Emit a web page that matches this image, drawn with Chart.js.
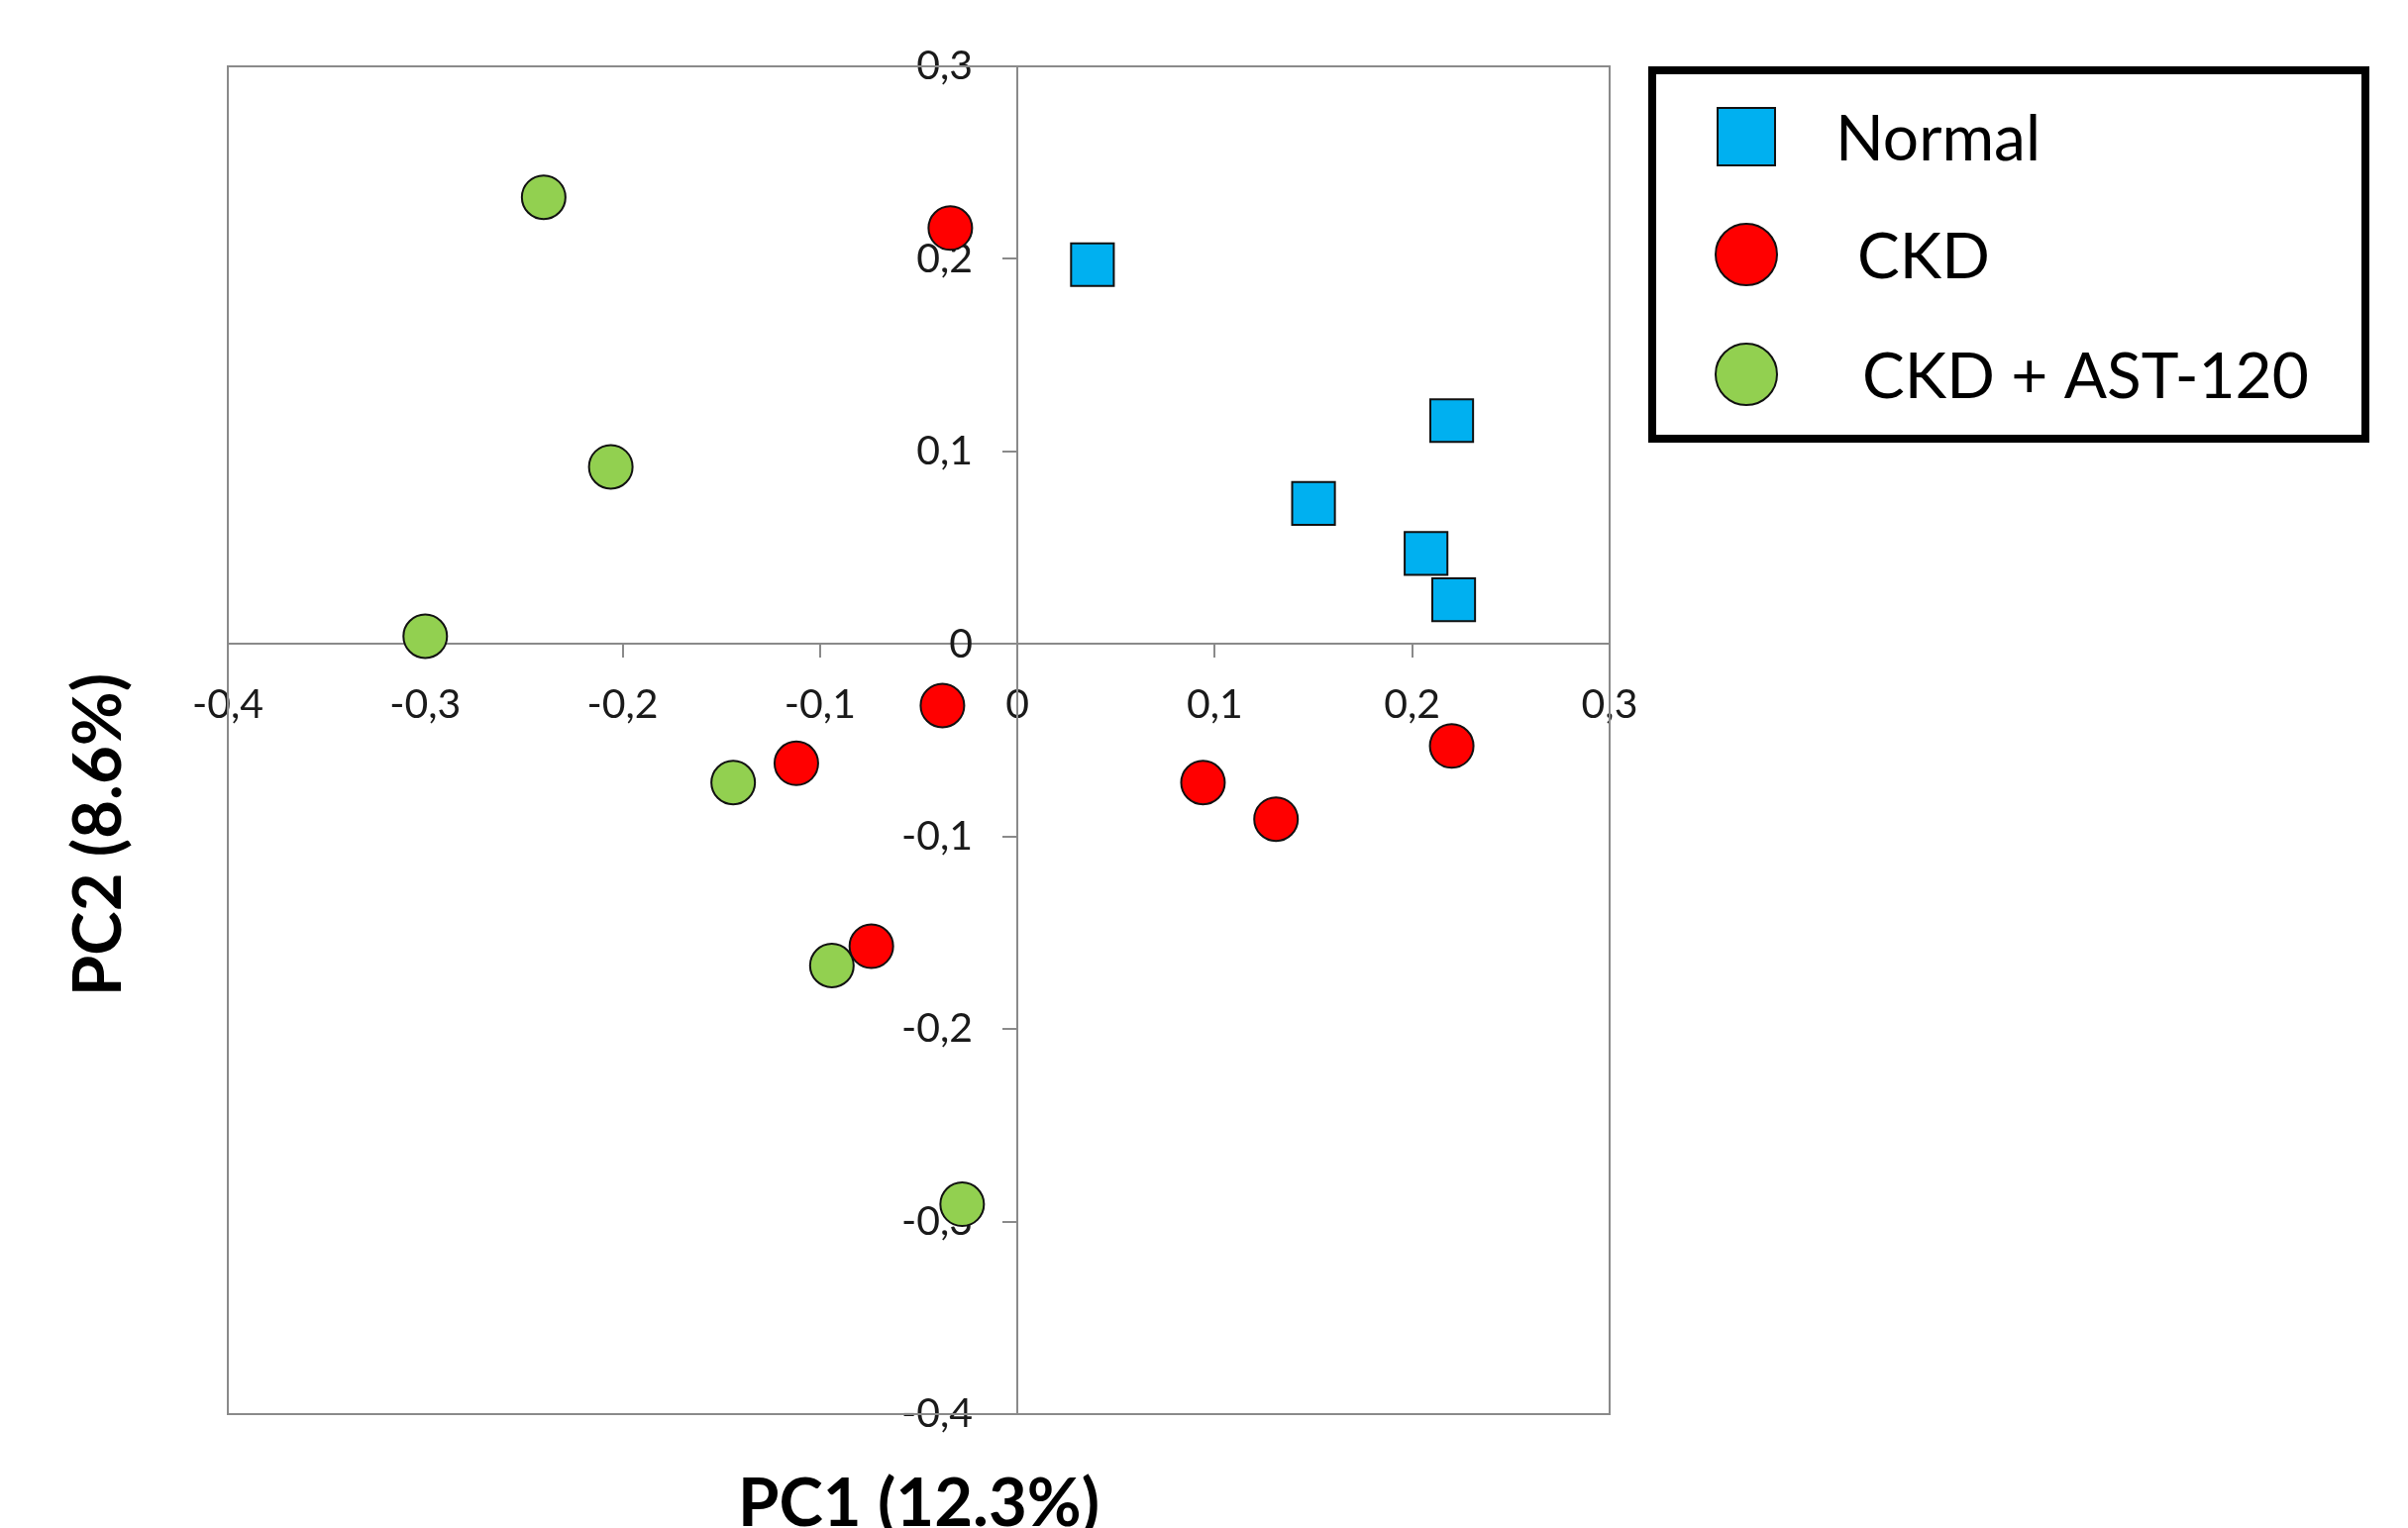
<!DOCTYPE html>
<html>
<head>
<meta charset="utf-8">
<script src="https://cdn.jsdelivr.net/npm/chart.js@4"></script>
<style>
    html, body { margin: 0; padding: 0; background: #ffffff; }
    #wrap { width: 2431px; height: 1543px; position: relative; }
</style>
</head>
<body>
<div id="wrap"><canvas id="pcaChart"></canvas></div>
<script>
// groups and scores
const groupLabels = ['Normal', 'CKD', 'CKD + AST-120'];

const normalX = [0.038, 0.220, 0.150, 0.207, 0.221];
const normalY = [0.197, 0.116, 0.073, 0.047, 0.023];

const ckdX = [-0.034, -0.038, -0.112, -0.074, 0.094, 0.131, 0.220];
const ckdY = [0.216, -0.032, -0.062, -0.157, -0.072, -0.091, -0.053];

const astX = [-0.240, -0.206, -0.300, -0.144, -0.094, -0.028];
const astY = [0.232, 0.092, 0.004, -0.072, -0.167, -0.291];

// axis ticks
const xTickValues = [-0.4, -0.3, -0.2, -0.1, 0, 0.1, 0.2, 0.3];
const xTickLabels = ['-0,4', '-0,3', '-0,2', '-0,1', '0', '0,1', '0,2', '0,3'];
const yTickValues = [-0.4, -0.3, -0.2, -0.1, 0, 0.1, 0.2, 0.3];
const yTickLabels = ['-0,4', '-0,3', '-0,2', '-0,1', '0', '0,1', '0,2', '0,3'];

const xTitle = 'PC1 (12.3%)';
const yTitle = 'PC2 (8.6%)';

const toPoints = (xs, ys) => xs.map((x, i) => ({ x: x, y: ys[i] }));

const axisGrey = '#8a8a8a';
const textColor = '#1a1a1a';
const fontFamily = 'Lato, "Open Sans", sans-serif';

Chart.defaults.font.family = fontFamily;

// frame round the plot + axis titles + boxed legend
const decorPlugin = {
    id: 'decor',
    beforeDatasetsDraw(chart) {
        const { ctx, chartArea: a } = chart;
        ctx.save();
        ctx.strokeStyle = axisGrey;
        ctx.lineWidth = 2;
        ctx.strokeRect(a.left, a.top, a.right - a.left, a.bottom - a.top);
        ctx.restore();
    },
    afterDraw(chart) {
        const { ctx, chartArea: a } = chart;
        ctx.save();
        ctx.fillStyle = '#000';
        ctx.font = 'bold 67px ' + fontFamily;
        ctx.textAlign = 'center';
        ctx.textBaseline = 'alphabetic';
        ctx.fillText(xTitle, (a.left + a.right) / 2, a.bottom + 113);

        ctx.translate(122, 843);
        ctx.rotate(-Math.PI / 2);
        ctx.fillText(yTitle, 0, 0);
        ctx.restore();

        // legend
        ctx.save();
        ctx.strokeStyle = '#000';
        ctx.lineWidth = 8;
        ctx.strokeRect(1668, 71, 720, 372);

        const rowY = [138, 257, 378];
        const textX = [1853, 1875, 1880];
        ctx.font = '64px ' + fontFamily;
        ctx.textAlign = 'left';
        chart.data.datasets.forEach((ds, i) => {
            ctx.fillStyle = ds.backgroundColor;
            ctx.strokeStyle = ds.borderColor;
            ctx.lineWidth = 2;
            Chart.helpers.drawPoint(ctx, {
                pointStyle: ds.pointStyle,
                radius: ds.pointStyle === 'rect' ? 41 : 31,
                borderWidth: 2,
                rotation: 0,
            }, 1763, rowY[i]);
            ctx.fillStyle = '#000';
            ctx.fillText(ds.label, textX[i], rowY[i] + 24);
        });
        ctx.restore();
    }
};

// a y axis placed at x = 0 gets its labels flush with the line; push them left
function shiftYLabels(scale) {
    const base = scale._computeLabelItems.bind(scale);
    const gap = scale.options.grid.tickLength + scale.options.ticks.padding;
    scale._computeLabelItems = (area) => base(area).map(item => {
        item.options.translation[0] -= gap;
        return item;
    });
}

const ctx = document.getElementById('pcaChart').getContext('2d');

new Chart(ctx, {
    type: 'scatter',
    data: {
        datasets: [
            {
                label: groupLabels[0],
                data: toPoints(normalX, normalY),
                pointStyle: 'rect',
                pointRadius: 30.5,
                pointHoverRadius: 30.5,
                borderWidth: 2,
                borderColor: '#111',
                backgroundColor: '#00b0f0',
            },
            {
                label: groupLabels[1],
                data: toPoints(ckdX, ckdY),
                pointStyle: 'circle',
                pointRadius: 22,
                pointHoverRadius: 22,
                borderWidth: 2,
                borderColor: '#111',
                backgroundColor: '#ff0000',
            },
            {
                label: groupLabels[2],
                data: toPoints(astX, astY),
                pointStyle: 'circle',
                pointRadius: 22,
                pointHoverRadius: 22,
                borderWidth: 2,
                borderColor: '#111',
                backgroundColor: '#92d050',
            }
        ]
    },
    options: {
        responsive: true,
        maintainAspectRatio: false,
        animation: false,
        layout: {
            padding: { left: 230, top: 67, right: 806, bottom: 115 }
        },
        plugins: {
            legend: { display: false },
            tooltip: { enabled: false },
            title: { display: false }
        },
        scales: {
            x: {
                type: 'linear',
                position: { y: 0 },
                min: -0.4,
                max: 0.3,
                afterBuildTicks: (scale) => {
                    scale.ticks = xTickValues.map(v => ({ value: v }));
                },
                grid: {
                    drawOnChartArea: false,
                    drawTicks: true,
                    tickLength: 13,
                    color: axisGrey,
                    lineWidth: 2,
                },
                border: { display: true, color: axisGrey, width: 2 },
                ticks: {
                    autoSkip: false,
                    maxRotation: 0,
                    padding: 24,
                    color: textColor,
                    font: { size: 41 },
                    callback: (value, index) => xTickLabels[index],
                }
            },
            y: {
                type: 'linear',
                position: { x: 0 },
                z: 1, // labels sit on top of the markers, as in the original
                min: -0.4,
                max: 0.3,
                afterBuildTicks: (scale) => {
                    scale.ticks = yTickValues.map(v => ({ value: v }));
                },
                afterUpdate: shiftYLabels,
                grid: {
                    drawOnChartArea: false,
                    drawTicks: true,
                    tickLength: 14,
                    color: axisGrey,
                    lineWidth: 2,
                },
                border: { display: true, color: axisGrey, width: 2 },
                ticks: {
                    autoSkip: false,
                    padding: 31,
                    color: textColor,
                    font: { size: 41 },
                    callback: (value, index) => yTickLabels[index],
                }
            }
        }
    },
    plugins: [decorPlugin]
});
</script>
</body>
</html>
